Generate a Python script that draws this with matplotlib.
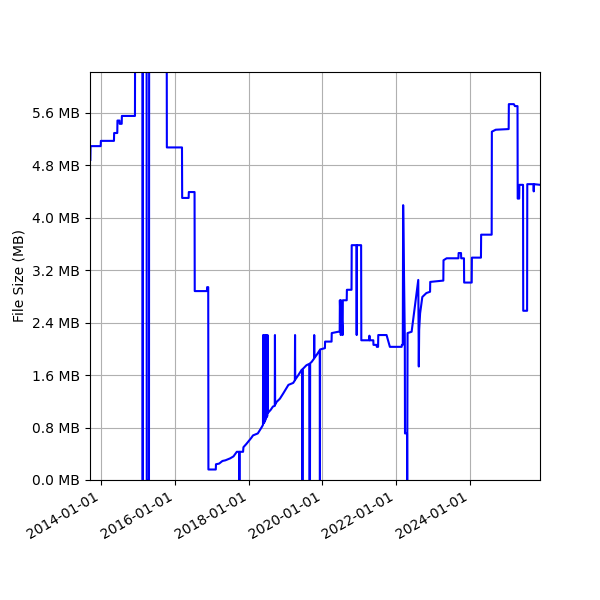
import datetime as dt
import matplotlib
matplotlib.use("Agg")
import matplotlib.pyplot as plt
import matplotlib.dates as mdates
from matplotlib.ticker import FuncFormatter

# decimal year of each commit and the file size (MB) at that commit
years = [
    2013.71, 2013.715, 2013.99, 2013.995, 2014.35, 2014.355, 2014.44, 2014.445,
    2014.50, 2014.505, 2014.56, 2014.565, 2014.92, 2014.925,
    2015.125, 2015.13, 2015.135, 2015.235, 2015.24, 2015.30, 2015.305,
    2015.78, 2015.785, 2016.195, 2016.20, 2016.375, 2016.38, 2016.535, 2016.54,
    2016.87, 2016.875, 2016.905, 2016.91, 2017.11, 2017.115, 2017.20, 2017.29,
    2017.37, 2017.50, 2017.59, 2017.68, 2017.745, 2017.75, 2017.755,
    2017.85, 2017.86, 2017.94, 2018.07, 2018.12, 2018.25, 2018.35,
    2018.39, 2018.395, 2018.40, 2018.43, 2018.435, 2018.44, 2018.47, 2018.475,
    2018.48, 2018.51, 2018.515, 2018.52, 2018.60, 2018.66, 2018.71, 2018.715,
    2018.72, 2018.76, 2018.85, 2018.94, 2019.08, 2019.21, 2019.255, 2019.26,
    2019.265, 2019.35, 2019.44, 2019.455, 2019.46, 2019.465, 2019.57,
    2019.645, 2019.65, 2019.665, 2019.67, 2019.71, 2019.775, 2019.78, 2019.785,
    2019.85, 2019.93, 2019.935, 2019.94, 2020.07, 2020.075, 2020.25, 2020.255,
    2020.43, 2020.47, 2020.475, 2020.50, 2020.505, 2020.55, 2020.555, 2020.585,
    2020.66, 2020.665, 2020.79, 2020.795, 2020.925, 2020.93, 2020.935,
    2021.05, 2021.055, 2021.27, 2021.275, 2021.28, 2021.38, 2021.385, 2021.47,
    2021.475, 2021.51, 2021.515, 2021.74, 2021.83, 2022.15, 2022.155,
    2022.18, 2022.19, 2022.235, 2022.24, 2022.295, 2022.30, 2022.31, 2022.42,
    2022.60, 2022.615, 2022.625, 2022.65, 2022.71, 2022.82, 2022.92, 2022.925,
    2023.28, 2023.285, 2023.37, 2023.69, 2023.695, 2023.76, 2023.765, 2023.84,
    2023.845, 2024.05, 2024.055, 2024.30, 2024.305, 2024.59, 2024.595, 2024.70,
    2025.05, 2025.055, 2025.19, 2025.22, 2025.29, 2025.295, 2025.335, 2025.34,
    2025.44, 2025.445, 2025.55, 2025.555, 2025.72, 2025.73, 2025.74, 2025.90,
]
sizes_mb = [
    4.88, 5.09, 5.09, 5.17, 5.17, 5.29, 5.29, 5.48,
    5.48, 5.43, 5.43, 5.55, 5.55, 7.50,
    7.50, 0.00, 7.50, 7.50, 0.00, 0.00, 7.50,
    7.50, 5.07, 5.07, 4.30, 4.30, 4.39, 4.39, 2.88,
    2.88, 2.94, 2.94, 0.16, 0.16, 0.24, 0.25, 0.29,
    0.30, 0.33, 0.36, 0.43, 0.43, 0.00, 0.43,
    0.43, 0.50, 0.55, 0.64, 0.68, 0.71, 0.80,
    0.84, 2.21, 0.86, 0.88, 2.21, 0.90, 0.93, 2.21,
    0.95, 0.98, 2.21, 1.02, 1.07, 1.12, 1.13, 2.21,
    1.15, 1.19, 1.24, 1.32, 1.45, 1.48, 1.52, 2.21,
    1.53, 1.60, 1.68, 1.68, 0.00, 1.69, 1.75,
    1.77, 0.00, 0.00, 1.78, 1.80, 1.85, 2.21, 1.86,
    1.91, 1.98, 0.00, 1.99, 2.01, 2.11, 2.11, 2.24,
    2.26, 2.26, 2.74, 2.21, 2.74, 2.21, 2.74, 2.74,
    2.74, 2.90, 2.90, 3.58, 3.58, 2.21, 3.58,
    3.58, 2.13, 2.13, 2.20, 2.13, 2.13, 2.06, 2.06,
    2.03, 2.03, 2.21, 2.21, 2.03, 2.03, 2.06,
    2.06, 4.19, 2.16, 0.71, 0.71, 0.00, 2.24, 2.26,
    3.05, 1.73, 2.29, 2.54, 2.79, 2.85, 2.87, 3.02,
    3.04, 3.35, 3.38, 3.38, 3.46, 3.46, 3.38, 3.38,
    3.01, 3.01, 3.39, 3.39, 3.74, 3.74, 5.31, 5.34,
    5.35, 5.73, 5.73, 5.70, 5.70, 4.29, 4.29, 4.50,
    4.50, 2.58, 2.58, 4.51, 4.51, 4.40, 4.51, 4.50,
]


def to_date(y):
    year = int(y)
    start = dt.datetime(year, 1, 1)
    end = dt.datetime(year + 1, 1, 1)
    return start + (end - start) * (y - year)


dates = [to_date(y) for y in years]

fig, ax = plt.subplots(figsize=(6, 6), dpi=100)
ax.plot(dates, sizes_mb, color="blue", linewidth=1.5)

ax.set_ylim(0, 6.22)
ax.set_xlim(to_date(2013.70), dates[-1])
ax.set_yticks([0.0, 0.8, 1.6, 2.4, 3.2, 4.0, 4.8, 5.6])
ax.yaxis.set_major_formatter(FuncFormatter(lambda v, p: f"{v:.1f} MB"))
ax.set_ylabel("File Size (MB)")

ax.xaxis.set_major_locator(mdates.YearLocator(2))
ax.xaxis.set_major_formatter(mdates.DateFormatter("%Y-%m-%d"))
ax.grid(True)

fig.autofmt_xdate()
fig.subplots_adjust(left=0.15, right=0.9, top=0.88, bottom=0.2)
fig.savefig("out.png")
